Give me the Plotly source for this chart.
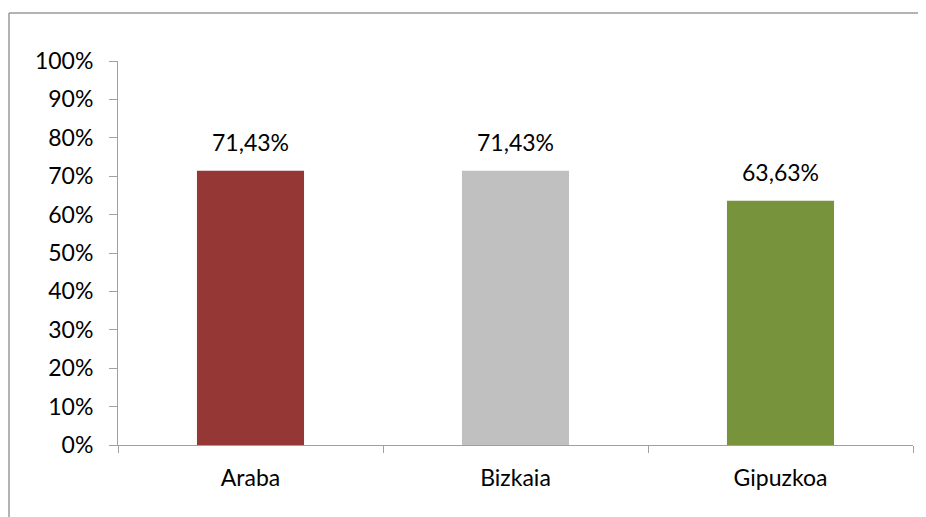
import plotly.graph_objects as go

categories = ["Araba", "Bizkaia", "Gipuzkoa"]
values = [0.7143, 0.7143, 0.6363]
colors = ["#953735", "#C0C0C0", "#77933C"]
labels = [f"{v*100:.2f}".replace(".", ",") + "%" for v in values]
y_ticks = [i / 10 for i in range(11)]
y_tick_labels = [f"{i*10}%" for i in range(11)]

FONT = "Lato"
FS = 23
AX = "#A0A0A0"

# page body offsets the figure by 8px
OFF = 8
W, H = 918, 509
L, R, T, B = 118 - OFF, 13, 61 - OFF, 72
pw, ph = W - L - R, H - T - B

def px(x):
    return (x - OFF - L) / pw

def py(y):
    return (H - B - (y - OFF)) / ph

fig = go.Figure()
fig.add_trace(go.Bar(
    x=categories, y=values, marker=dict(color=colors, line=dict(width=0)),
    width=0.404, hoverinfo="skip",
))

for c, v, t in zip(categories, values, labels):
    fig.add_annotation(x=c, y=v, text=t, showarrow=False, yshift=29,
                       font=dict(family=FONT, size=FS, color="#000000"))

fig.add_shape(type="line", xref="paper", yref="paper",
              x0=px(9), x1=px(940), y0=py(13), y1=py(13),
              line=dict(color="#9A9A9A", width=1.5))
fig.add_shape(type="line", xref="paper", yref="paper",
              x0=px(9), x1=px(9), y0=py(13), y1=py(540),
              line=dict(color="#9A9A9A", width=1.5))

fig.update_layout(
    width=W, height=H,
    margin=dict(l=L, r=R, t=T, b=B),
    paper_bgcolor="white", plot_bgcolor="white",
    showlegend=False,
    font=dict(family=FONT, size=FS, color="#000000"),
    xaxis=dict(
        showline=True, linecolor=AX, linewidth=1,
        ticks="outside", tickson="boundaries", ticklen=7, tickcolor=AX,
        showgrid=False, tickfont=dict(family=FONT, size=FS),
        ticklabelstandoff=12,
    ),
    yaxis=dict(
        range=[0, 1], tickvals=y_ticks, ticktext=y_tick_labels,
        showline=True, linecolor=AX, linewidth=1,
        ticks="outside", ticklen=8, tickcolor=AX,
        showgrid=False, zeroline=False, tickfont=dict(family=FONT, size=FS),
        ticklabelstandoff=11,
    ),
)

fig.write_html("out.html")
